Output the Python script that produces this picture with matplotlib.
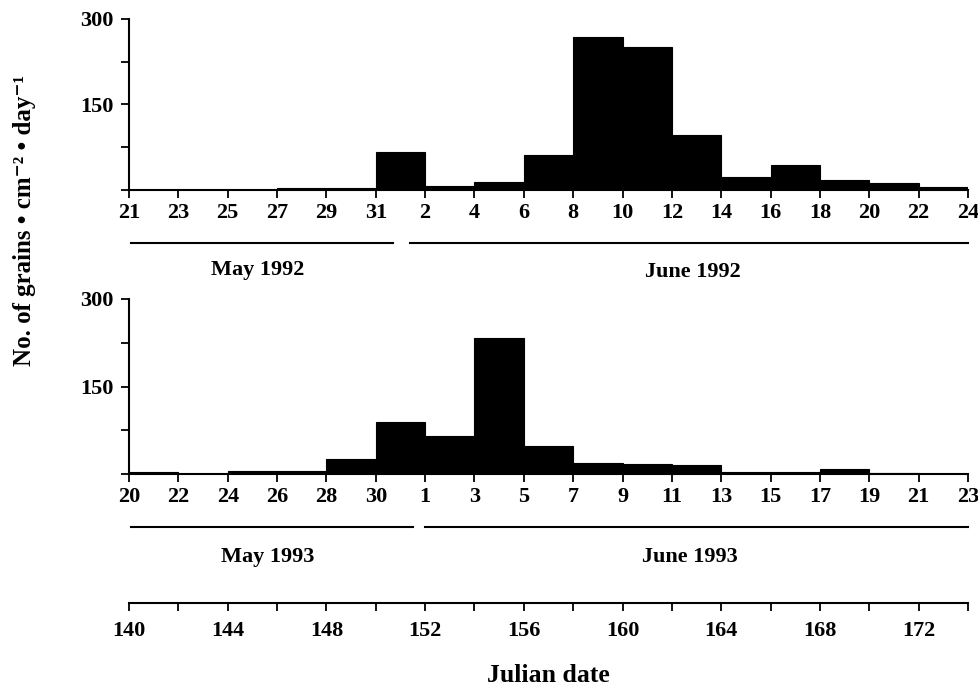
import matplotlib
matplotlib.use("Agg")
import matplotlib.pyplot as plt
from matplotlib.transforms import blended_transform_factory
import numpy as np

plt.rcParams['font.family'] = ['Liberation Serif', 'DejaVu Serif']
plt.rcParams['font.weight'] = 'bold'

# ---- data (2-day bins) ----
top_tick_labels = ["21", "23", "25", "27", "29", "31", "2", "4", "6", "8",
                   "10", "12", "14", "16", "18", "20", "22", "24"]
top_values = [0, 0, 0, 4, 4, 67, 7, 14, 61, 268, 251, 96, 22, 44, 18, 13, 5]

bot_tick_labels = ["20", "22", "24", "26", "28", "30", "1", "3", "5", "7",
                   "9", "11", "13", "15", "17", "19", "21", "23"]
bot_values = [3, 0.5, 6, 6, 26, 90, 65, 234, 48, 19, 18, 15, 4, 4, 8, 1, 0.5]

julian_ticks = list(range(140, 175, 2))
julian_labels = ["140", "144", "148", "152", "156", "160", "164", "168", "172"]

y_ticks = [0, 75, 150, 225, 300]
y_tick_labels = ["", "", "150", "", "300"]

W, H = 979, 687
fig = plt.figure(figsize=(W / 100, H / 100), dpi=100)

def fx(px):
    return px / W

def fy(py):
    return 1 - py / H

left, right = fx(129), fx(968)
ax1 = fig.add_axes([left, fy(190), right - left, fy(19) - fy(190)])
ax2 = fig.add_axes([left, fy(474), right - left, fy(299) - fy(474)])

FS = 16

def style(ax, x0, labels):
    ax.set_xlim(x0, x0 + 34)
    ax.set_ylim(0, 300)
    for s in ['top', 'right']:
        ax.spines[s].set_visible(False)
    for s in ['left', 'bottom']:
        ax.spines[s].set_linewidth(1.5)
    ax.set_xticks([x0 + 2 * i for i in range(len(labels))])
    ax.set_xticklabels(labels, fontsize=FS, fontweight='bold')
    ax.set_yticks(y_ticks)
    ax.set_yticklabels(y_tick_labels, fontsize=FS, fontweight='bold')
    ax.tick_params(axis='both', direction='out', length=6, width=1.3, pad=3)
    ax.tick_params(axis='y', pad=5)

# top panel: x in days since 21 May 1992
x_top = [2 * i for i in range(len(top_values))]
ax1.bar(x_top, top_values, width=2, align='edge', color='black',
        edgecolor='black', linewidth=0.8)
style(ax1, 0, top_tick_labels)

# bottom panel: x in Julian date
x_bot = [140 + 2 * i for i in range(len(bot_values))]
ax2.bar(x_bot, bot_values, width=2, align='edge', color='black',
        edgecolor='black', linewidth=0.8)
style(ax2, 140, bot_tick_labels)

# month lines and labels
t1 = blended_transform_factory(ax1.transData, fig.transFigure)
t2 = blended_transform_factory(ax2.transData, fig.transFigure)
ax1.plot([0.1, 10.7], [fy(243), fy(243)], color='black', lw=1.5,
         transform=t1, clip_on=False)
ax1.plot([11.4, 34], [fy(243), fy(243)], color='black', lw=1.5,
         transform=t1, clip_on=False)
fig.text(fx(258), fy(270), "May 1992", ha='center', va='center',
         fontsize=FS, fontweight='bold')
fig.text(fx(693), fy(272), "June 1992", ha='center', va='center',
         fontsize=FS, fontweight='bold')

ax2.plot([140.1, 151.5], [fy(527), fy(527)], color='black', lw=1.5,
         transform=t2, clip_on=False)
ax2.plot([152.0, 174], [fy(527), fy(527)], color='black', lw=1.5,
         transform=t2, clip_on=False)
fig.text(fx(268), fy(557), "May 1993", ha='center', va='center',
         fontsize=FS, fontweight='bold')
fig.text(fx(690), fy(557), "June 1993", ha='center', va='center',
         fontsize=FS, fontweight='bold')

# Julian date axis
ax3 = fig.add_axes([left, fy(603), right - left, 0.01])
ax3.set_xlim(140, 174)
ax3.set_ylim(0, 1)
for s in ['top', 'right', 'left']:
    ax3.spines[s].set_visible(False)
ax3.spines['bottom'].set_linewidth(1.5)
ax3.set_yticks([])
ax3.set_xticks(julian_ticks)
ax3.set_xticklabels([lbl if i % 2 == 0 else "" for i, lbl in
                     enumerate([str(t) for t in julian_ticks])],
                    fontsize=FS, fontweight='bold')
ax3.tick_params(axis='x', direction='out', length=6, width=1.3, pad=7)
ax3.patch.set_visible(False)
fig.text(fx(548), fy(676), "Julian date", ha='center', va='center',
         fontsize=18.5, fontweight='bold')

# y label
fig.text(fx(25), fy(220),
         "No. of grains \u2022 cm\u207b\u00b2 \u2022 day\u207b\u00b9",
         rotation=90, ha='center', va='center', fontsize=18,
         fontweight='bold')

fig.savefig("out.png", dpi=100)
